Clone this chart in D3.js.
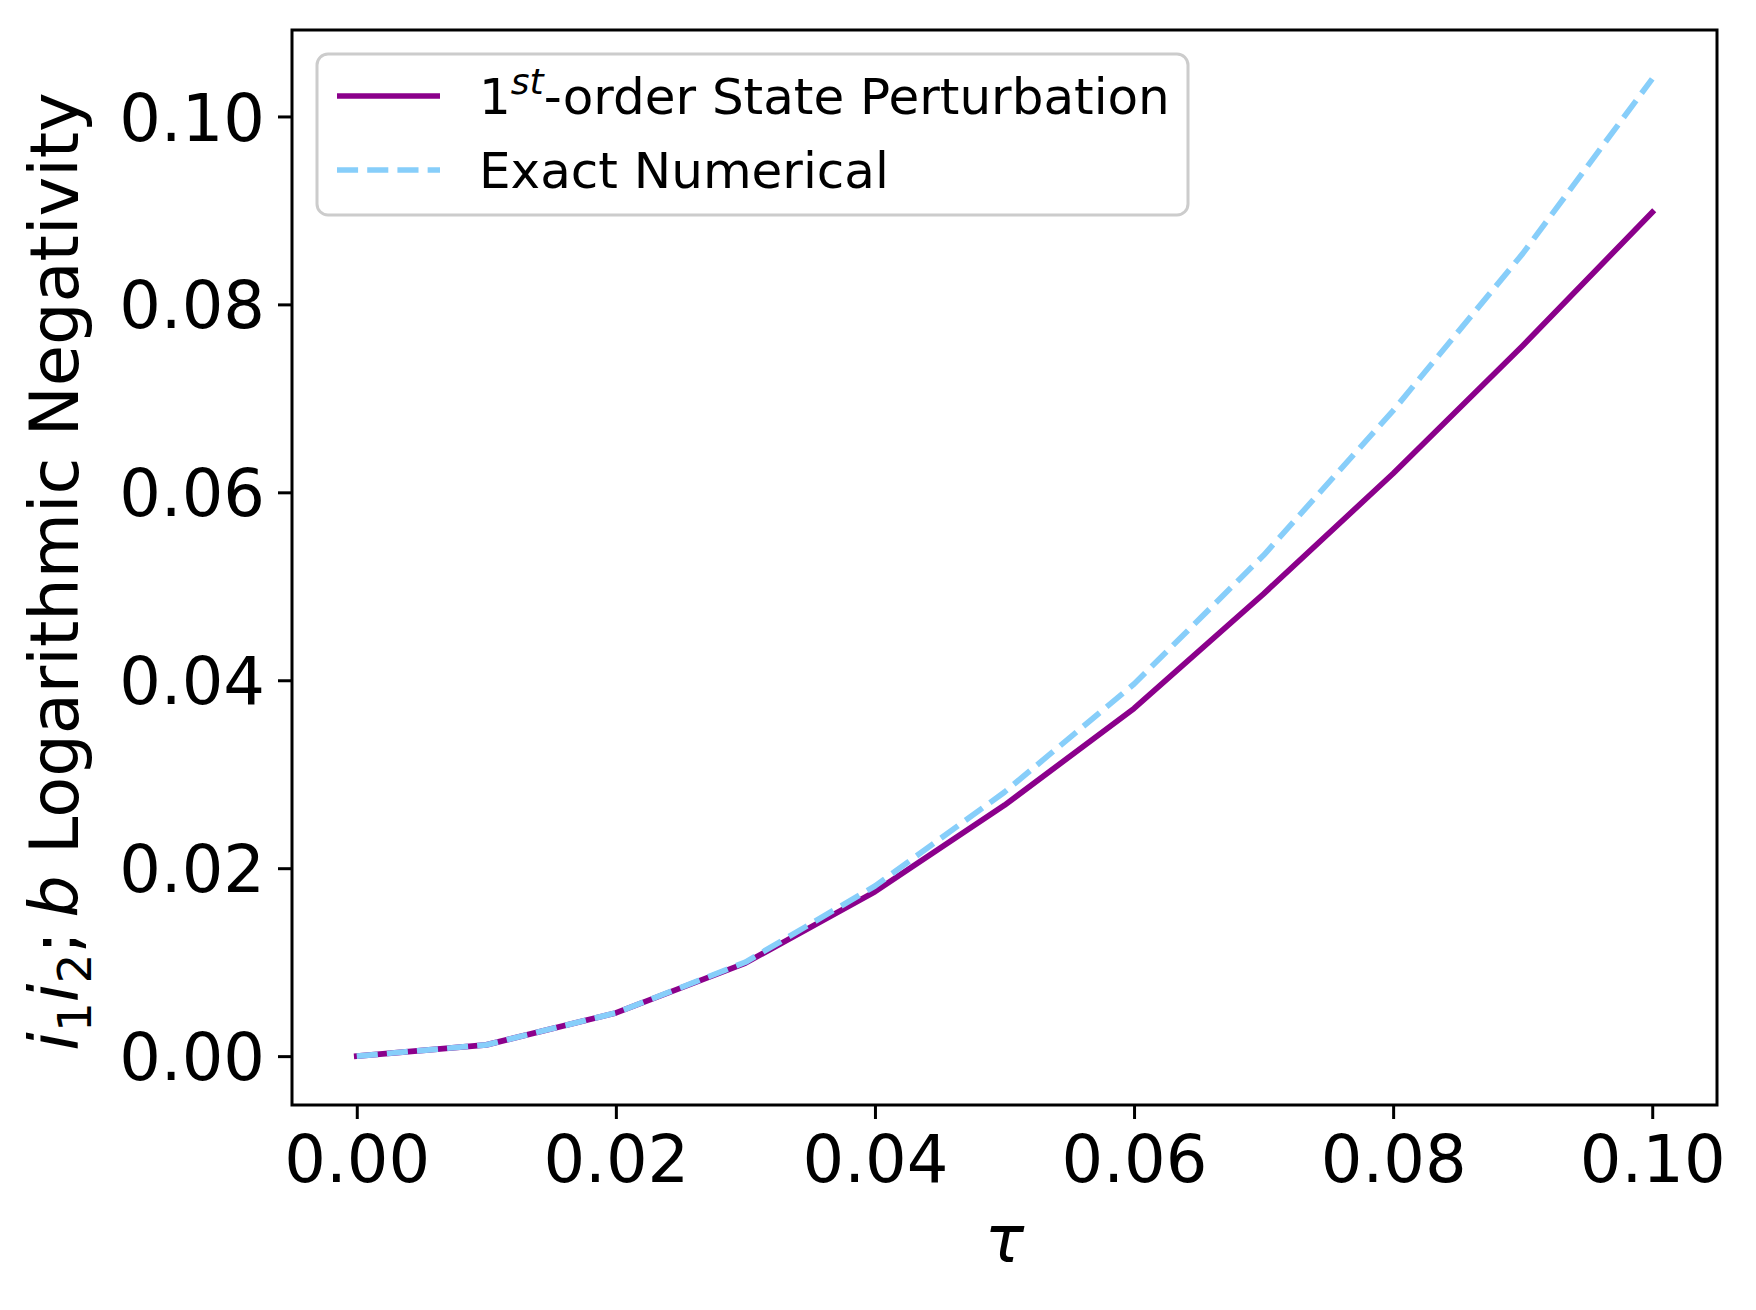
<!DOCTYPE html>
<html>
<head>
<meta charset="utf-8">
<script src="https://cdn.jsdelivr.net/npm/d3@7"></script>
<style>
  html, body { margin: 0; padding: 0; background: #fff; }
  svg { display: block; font-family: "DejaVu Sans", sans-serif; }
</style>
</head>
<body>
<svg id="chart" width="1756" height="1310"></svg>
<script>
// ---- data ----
const tau = [0.00, 0.01, 0.02, 0.03, 0.04, 0.05, 0.06, 0.07, 0.08, 0.09, 0.10];
const firstOrder = [0.0000, 0.0012, 0.0046, 0.0099, 0.0175, 0.0267, 0.0370, 0.0492, 0.0620, 0.0756, 0.0898];
const exactNumerical = [0.0000, 0.0012, 0.0046, 0.0100, 0.0181, 0.0281, 0.0396, 0.0533, 0.0687, 0.0854, 0.1040];
const xTicks = [0.00, 0.02, 0.04, 0.06, 0.08, 0.10];
const yTicks = [0.00, 0.02, 0.04, 0.06, 0.08, 0.10];
const seriesNames = ["1st-order State Perturbation", "Exact Numerical"];
const seriesColors = ["#8B008B", "#87CEFA"];

(function () {
// ---- layout ----
const mL = 292, mR = 1717, mT = 30, mB = 1105;
const svg = d3.select("#chart");

function padded(ext) {
  const span = ext[1] - ext[0];
  return [ext[0] - 0.05 * span, ext[1] + 0.05 * span];
}
const x = d3.scaleLinear().domain(padded(d3.extent(tau))).range([mL, mR]);
const yMax = d3.max(firstOrder.concat(exactNumerical));
const y = d3.scaleLinear().domain(padded([0, yMax])).range([mB, mT]);

const lw = 5.7;

svg.append("clipPath").attr("id", "clip")
  .append("rect").attr("x", mL).attr("y", mT).attr("width", mR - mL).attr("height", mB - mT);

const line = d3.line().x((d, i) => x(tau[i])).y(d => y(d));

const plot = svg.append("g").attr("clip-path", "url(#clip)");
plot.append("path").datum(firstOrder)
  .attr("d", line).attr("fill", "none")
  .attr("stroke", seriesColors[0]).attr("stroke-width", lw)
  .attr("stroke-linejoin", "round").attr("stroke-linecap", "square");
plot.append("path").datum(exactNumerical)
  .attr("d", line).attr("fill", "none")
  .attr("stroke", seriesColors[1]).attr("stroke-width", lw)
  .attr("stroke-dasharray", `${3.7 * lw},${1.6 * lw}`)
  .attr("stroke-linejoin", "round").attr("stroke-linecap", "butt");

// axes
const fs = 65.5;
const xAxis = svg.append("g").attr("transform", `translate(0,${mB})`)
  .call(d3.axisBottom(x).tickValues(xTicks).tickFormat(d3.format(".2f")).tickSize(14).tickPadding(13));
const yAxis = svg.append("g").attr("transform", `translate(${mL},0)`)
  .call(d3.axisLeft(y).tickValues(yTicks).tickFormat(d3.format(".2f")).tickSize(14).tickPadding(13));
[xAxis, yAxis].forEach(a => {
  a.select(".domain").remove();
  a.selectAll(".tick line").attr("stroke", "#000").attr("stroke-width", 3);
  a.selectAll(".tick text").attr("font-size", fs).attr("fill", "#000")
    .attr("font-family", "DejaVu Sans");
});
xAxis.selectAll(".tick text").attr("dy", "0.76em");
yAxis.selectAll(".tick text").attr("dy", "0.36em");

// spines
svg.append("rect").attr("x", mL).attr("y", mT)
  .attr("width", mR - mL).attr("height", mB - mT)
  .attr("fill", "none").attr("stroke", "#000").attr("stroke-width", 3);

// x label
svg.append("text").attr("x", (mL + mR) / 2).attr("y", 1262)
  .attr("text-anchor", "middle").attr("font-size", fs).attr("font-style", "italic")
  .text("τ");

// y label with math
const yfs = 67;
const yl = svg.append("text")
  .attr("transform", `translate(78,${(mT + mB) / 2 + 4}) rotate(-90)`)
  .attr("text-anchor", "middle").attr("font-size", yfs);
yl.append("tspan").attr("font-style", "italic").text("i");
yl.append("tspan").attr("font-size", yfs * 0.7).attr("dy", yfs * 0.2).text("1");
yl.append("tspan").attr("font-style", "italic").attr("dy", -yfs * 0.2).text("i");
yl.append("tspan").attr("font-size", yfs * 0.7).attr("dy", yfs * 0.2).text("2");
yl.append("tspan").attr("dy", -yfs * 0.2).text(";\u2009");
yl.append("tspan").attr("font-style", "italic").text("b");
yl.append("tspan").text(" Logarithmic Negativity");

// legend
const lg = svg.append("g");
lg.append("rect").attr("x", 317).attr("y", 54).attr("width", 871).attr("height", 161)
  .attr("rx", 11).attr("ry", 11)
  .attr("fill", "#fff").attr("fill-opacity", 0.8)
  .attr("stroke", "#cccccc").attr("stroke-width", 3);
const lfs = 50;
const rows = [{ y: 96, i: 0 }, { y: 170, i: 1 }];
rows.forEach(r => {
  const l = lg.append("line").attr("x1", 337).attr("x2", 440)
    .attr("y1", r.y).attr("y2", r.y)
    .attr("stroke", seriesColors[r.i]).attr("stroke-width", lw);
  if (r.i === 1) l.attr("stroke-dasharray", `${3.7 * lw},${1.6 * lw}`);
});
const t1 = lg.append("text").attr("x", 479).attr("y", 114).attr("font-size", lfs);
t1.append("tspan").text("1");
t1.append("tspan").attr("font-size", lfs * 0.72).attr("font-style", "italic").attr("dy", -lfs * 0.4).text("st");
t1.append("tspan").attr("dy", lfs * 0.4).text("-order State Perturbation");
lg.append("text").attr("x", 479).attr("y", 188).attr("font-size", lfs).text(seriesNames[1]);
})();
</script>
</body>
</html>
